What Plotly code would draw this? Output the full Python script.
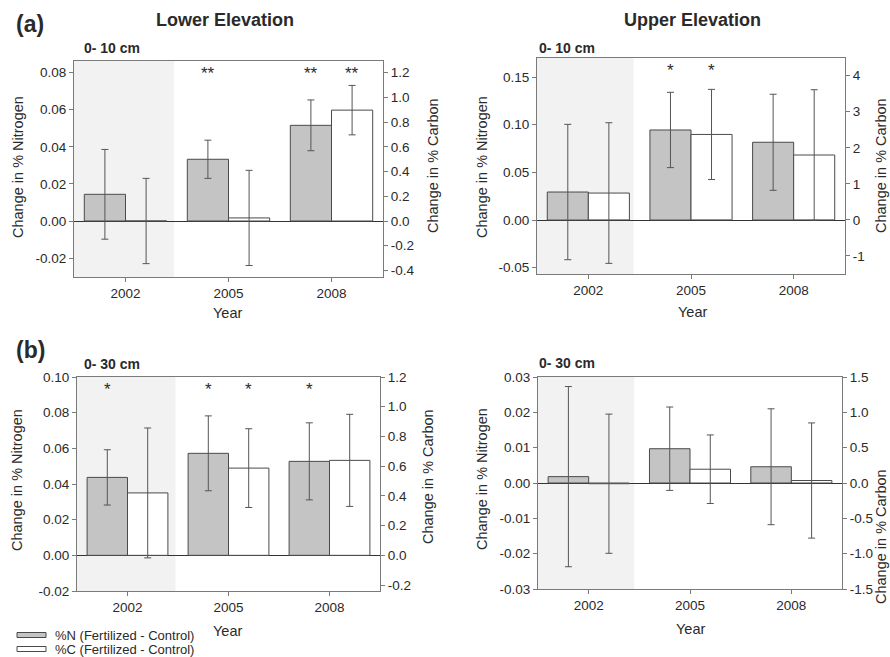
import plotly.graph_objects as go

# ---------------- data ----------------
years = ["2002", "2005", "2008"]

low10_N = [0.0144, 0.0333, 0.0516]
low10_N_err = [0.0242, 0.0103, 0.0137]
low10_C = [0.0, 0.025, 0.897]
low10_C_err = [0.345, 0.385, 0.200]

up10_N = [0.0294, 0.0945, 0.0816]
up10_N_err = [0.071, 0.0395, 0.0504]
up10_C = [0.745, 2.37, 1.80]
up10_C_err = [1.95, 1.25, 1.81]

low30_N = [0.0437, 0.0572, 0.0527]
low30_N_err = [0.0155, 0.021, 0.0216]
low30_C = [0.42, 0.587, 0.639]
low30_C_err = [0.437, 0.265, 0.31]

up30_N = [0.0018, 0.0097, 0.0046]
up30_N_err = [0.0255, 0.0118, 0.0164]
up30_C = [-0.01, 0.195, 0.035]
up30_C_err = [0.985, 0.485, 0.815]

# significance stars: (year index, series, label)
low10_stars = [(1, "N", "**"), (2, "N", "**"), (2, "C", "**")]
up10_stars = [(1, "N", "*"), (1, "C", "*")]
low30_stars = [(0, "N", "*"), (1, "N", "*"), (1, "C", "*"), (2, "N", "*")]
up30_stars = []

# axis ticks
low10_ticksN = [-0.02, 0.00, 0.02, 0.04, 0.06, 0.08]
low10_ticksC = [-0.4, -0.2, 0.0, 0.2, 0.4, 0.6, 0.8, 1.0, 1.2]
up10_ticksN = [-0.05, 0.00, 0.05, 0.10, 0.15]
up10_ticksC = [-1, 0, 1, 2, 3, 4]
low30_ticksN = [-0.02, 0.00, 0.02, 0.04, 0.06, 0.08, 0.10]
low30_ticksC = [-0.2, 0.0, 0.2, 0.4, 0.6, 0.8, 1.0, 1.2]
up30_ticksN = [-0.03, -0.02, -0.01, 0.00, 0.01, 0.02, 0.03]
up30_ticksC = [-1.5, -1.0, -0.5, 0.0, 0.5, 1.0, 1.5]

# ---------------- styling ----------------
W, H = 890, 657
FONT = "Liberation Sans, Arial, sans-serif"
TXT = "#2a2a2a"
AXC = "#7a7a7a"
NFILL = "#c4c4c4"
EDGE = "#4a4a4a"
ERRC = "#555555"
SHADE = "#f2f2f2"


def px(x):
    return x / W


def py(y):
    return 1 - y / H


fig = go.Figure()

panels = [
    (low10_N, low10_N_err, low10_C, low10_C_err, low10_stars, low10_ticksN, "{:.2f}", low10_ticksC, "{:.1f}",
     [-0.0302, 0.0863], [-0.453, 1.2945], (74, 383, 61, 277), 0.47),
    (up10_N, up10_N_err, up10_C, up10_C_err, up10_stars, up10_ticksN, "{:.2f}", up10_ticksC, "{:.0f}",
     [-0.0566, 0.170], [-1.50, 4.49], (537, 845, 58, 274), 0.44),
    (low30_N, low30_N_err, low30_C, low30_C_err, low30_stars, low30_ticksN, "{:.2f}", low30_ticksC, "{:.1f}",
     [-0.020, 0.100], [-0.24, 1.20], (77, 380, 377, 591), 0.475),
    (up30_N, up30_N_err, up30_C, up30_C_err, up30_stars, up30_ticksN, "{:.2f}", up30_ticksC, "{:.1f}",
     [-0.030, 0.030], [-1.5, 1.5], (538, 842, 377, 589), 0.45),
]

layout = {}
shapes = []
annotations = []
xpos = [0, 1, 2]
tickfont = dict(family=FONT, size=13.5, color=TXT)

for i, (N, Ne, C, Ce, stars, tN, fN, tC, fC, rN, rC, box, shade_end) in enumerate(panels):
    xa = "x" if i == 0 else f"x{i + 1}"
    yl_idx = 2 * i + 1
    yr_idx = 2 * i + 2
    yl = "y" if yl_idx == 1 else f"y{yl_idx}"
    yr = f"y{yr_idx}"
    x0, x1, y0, y1 = box
    xdom = [px(x0), px(x1)]
    ydom = [py(y1), py(y0)]

    fig.add_trace(go.Bar(
        x=xpos, y=N, width=0.4, offset=-0.4, xaxis=xa, yaxis=yl,
        marker=dict(color=NFILL, line=dict(color=EDGE, width=1)),
        error_y=dict(type="data", array=Ne, color=ERRC, thickness=1, width=3.5),
        name="%N (Fertilized - Control)", showlegend=False))
    fig.add_trace(go.Bar(
        x=xpos, y=C, width=0.4, offset=0.0, xaxis=xa, yaxis=yr,
        marker=dict(color="white", line=dict(color=EDGE, width=1)),
        error_y=dict(type="data", array=Ce, color=ERRC, thickness=1, width=3.5),
        name="%C (Fertilized - Control)", showlegend=False))

    xkey = "xaxis" if i == 0 else f"xaxis{i + 1}"
    ylkey = "yaxis" if yl_idx == 1 else f"yaxis{yl_idx}"
    yrkey = f"yaxis{yr_idx}"
    layout[xkey] = dict(domain=xdom, anchor=yl, range=[-0.5, 2.5], tickvals=xpos, ticktext=years,
                        showline=True, linecolor=AXC, linewidth=1, mirror=True, ticks="outside",
                        ticklen=4, tickcolor=AXC, showgrid=False, zeroline=False, tickfont=tickfont,
                        automargin=False)
    layout[ylkey] = dict(domain=ydom, anchor=xa, range=rN, tickvals=tN,
                         ticktext=[fN.format(v) for v in tN], showline=True, linecolor=AXC,
                         linewidth=1, ticks="outside", ticklen=4, tickcolor=AXC, showgrid=False,
                         zeroline=True, zerolinecolor="#333333", zerolinewidth=1, tickfont=tickfont,
                         automargin=False)
    layout[yrkey] = dict(overlaying=yl, side="right", anchor=xa, range=rC, tickvals=tC,
                         ticktext=[fC.format(v) for v in tC], showline=True, linecolor=AXC,
                         linewidth=1, ticks="outside", ticklen=4, tickcolor=AXC, showgrid=False,
                         zeroline=False, tickfont=tickfont, automargin=False)

    shapes.append(dict(type="rect", xref=xa, yref=f"{yl} domain", x0=-0.5, x1=shade_end, y0=0, y1=1,
                       fillcolor=SHADE, line=dict(width=0), layer="below"))

    for (k, s, lab) in stars:
        xs = k - 0.2 if s == "N" else k + 0.2
        annotations.append(dict(x=xs, y=0.94, xref=xa, yref=f"{yl} domain", text=lab, showarrow=False,
                                font=dict(family=FONT, size=17, color=TXT), yanchor="middle"))


def ann(x, y, text, size, bold=False, angle=0, xanchor="center"):
    t = f"<b>{text}</b>" if bold else text
    annotations.append(dict(x=px(x), y=py(y), xref="paper", yref="paper", text=t, showarrow=False,
                            textangle=angle, xanchor=xanchor, yanchor="middle",
                            font=dict(family=FONT, size=size, color=TXT)))


# panel letters and headers
ann(14, 24, "(a)", 23, bold=True, xanchor="left")
ann(14, 350, "(b)", 23, bold=True, xanchor="left")
ann(225, 20, "Lower Elevation", 18, bold=True)
ann(692, 20, "Upper Elevation", 18, bold=True)
ann(82, 48, "0- 10 cm", 14, bold=True, xanchor="left")
ann(537, 48, "0- 10 cm", 14, bold=True, xanchor="left")
ann(82, 364, "0- 30 cm", 14, bold=True, xanchor="left")
ann(537, 363, "0- 30 cm", 14, bold=True, xanchor="left")

# axis titles
ann(18, 167, "Change in % Nitrogen", 14.5, angle=-90)
ann(433, 166, "Change in % Carbon", 14.5, angle=-90)
ann(482, 167, "Change in % Nitrogen", 14.5, angle=-90)
ann(881, 166, "Change in % Carbon", 14.5, angle=-90)
ann(17, 480, "Change in % Nitrogen", 14.5, angle=-90)
ann(428, 477, "Change in % Carbon", 14.5, angle=-90)
ann(482, 479, "Change in % Nitrogen", 14.5, angle=-90)
ann(881, 537, "Change in % Carbon", 14.5, angle=-90)

ann(228, 313, "Year", 14.5)
ann(692, 312, "Year", 14.5)
ann(228, 631, "Year", 14.5)
ann(690, 629, "Year", 14.5)

# legend
legend_items = [("%N (Fertilized - Control)", NFILL, 635), ("%C (Fertilized - Control)", "white", 649)]
for label, fill, yy in legend_items:
    shapes.append(dict(type="rect", xref="paper", yref="paper", x0=px(17), x1=px(46),
                       y0=py(yy + 2.5), y1=py(yy - 2.5), fillcolor=fill,
                       line=dict(color=EDGE, width=1)))
    ann(53, yy, label, 13, xanchor="left")

fig.update_layout(
    width=W, height=H, margin=dict(l=0, r=0, t=0, b=0, autoexpand=False),
    paper_bgcolor="white", plot_bgcolor="rgba(0,0,0,0)",
    barmode="overlay", showlegend=False, hovermode=False,
    font=dict(family=FONT, color=TXT),
    shapes=shapes, annotations=annotations,
    **layout,
)

fig.write_html(
    "out.html",
    config={"displayModeBar": False, "staticPlot": True},
    post_script="document.body.style.margin='0';document.body.style.padding='0';"
                "document.body.style.overflow='hidden';",
)
